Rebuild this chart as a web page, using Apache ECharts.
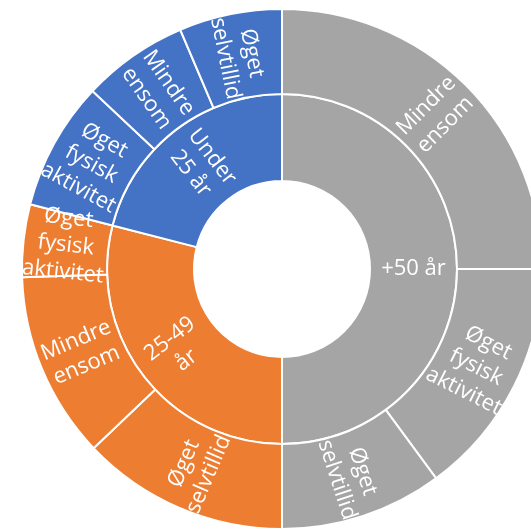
<!DOCTYPE html>
<html><head><meta charset="utf-8">
<script src="https://cdn.jsdelivr.net/npm/echarts@6/dist/echarts.min.js"></script>
<style>html,body{margin:0;padding:0;background:#fff;overflow:hidden}#c{width:531px;height:530px}</style>
</head><body><div id="c"></div>
<script>
const groups = ['+50 år', '25-49 år', 'Under 25 år'];
const groupColors = ['#A5A5A5', '#ED7D31', '#4472C4'];
const subNames50 = ['Mindre ensom', 'Øget fysisk aktivitet', 'Øget selvtillid'];
const values50 = [25, 14.9, 10.1];
const subNames2549 = ['Øget selvtillid', 'Mindre ensom', 'Øget fysisk aktivitet'];
const values2549 = [12.9, 11.6, 4.5];
const subNamesU25 = ['Øget fysisk aktivitet', 'Mindre ensom', 'Øget selvtillid'];
const valuesU25 = [8.0, 6.6, 6.4];

const displayLabels = {
  '+50 år': '+50 år',
  '25-49 år': '25-49\når',
  'Under 25 år': 'Under\n25 år',
  'Mindre ensom': 'Mindre\nensom',
  'Øget fysisk aktivitet': 'Øget\nfysisk\naktivitet',
  'Øget selvtillid': 'Øget\nselvtillid'
};

const subNames = [subNames50, subNames2549, subNamesU25];
const subValues = [values50, values2549, valuesU25];

const data = groups.map((g, i) => ({
  name: g,
  itemStyle: { color: groupColors[i] },
  children: subNames[i].map((n, j) => ({
    name: n,
    value: subValues[i][j],
    itemStyle: { color: groupColors[i] }
  }))
}));

const chart = echarts.init(document.getElementById('c'), null, { renderer: 'canvas' });
chart.setOption({
  animation: false,
  series: [{
    type: 'sunburst',
    center: [282, 269],
    radius: [88, 260],
    sort: null,
    startAngle: 90,
    clockwise: true,
    nodeClick: false,
    emphasis: { disabled: true },
    data: data,
    itemStyle: { borderColor: '#fff', borderWidth: 2 },
    label: {
      rotate: 'radial',
      color: '#fff',
      fontFamily: 'Open Sans',
      fontSize: 22,
      lineHeight: 27,
      formatter: p => displayLabels[p.name] || p.name
    },
    levels: [
      {},
      { r0: 88, r: 175 },
      { r0: 175, r: 260 }
    ]
  }]
});
</script>
</body></html>
